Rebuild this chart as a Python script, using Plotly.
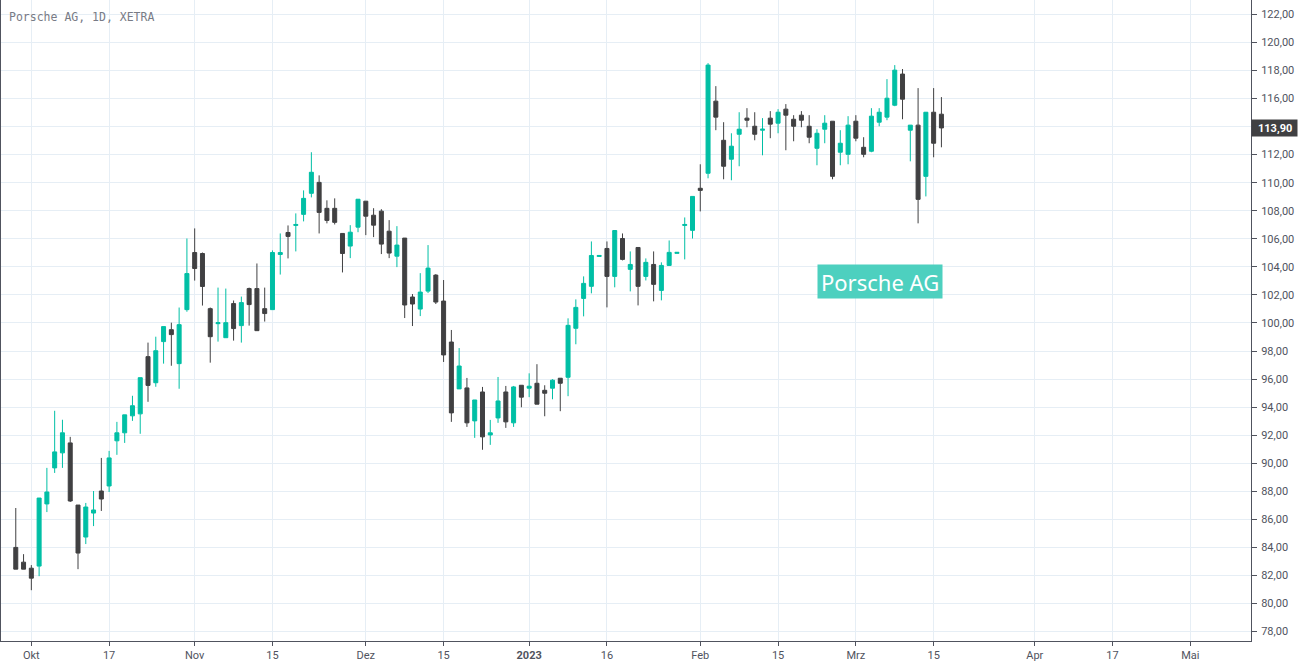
import pandas as pd
import plotly.graph_objects as go

opens = [84.00, 82.95, 82.52, 82.67, 87.10, 89.67, 90.74, 91.45, 87.02, 84.74,
         86.45, 88.02, 88.38, 91.60, 92.17, 93.38, 93.52, 97.60, 95.74, 98.67,
         99.52, 97.10, 100.95, 105.02, 104.95, 101.02, 99.95, 98.95, 101.38, 99.81,
         102.45, 102.45, 101.02, 100.95, 104.88, 106.45, 106.95, 107.74, 109.24, 110.02,
         108.17, 108.17, 106.38, 105.48, 106.83, 108.68, 107.68, 107.97, 106.54, 104.76,
         106.05, 101.85, 100.99, 102.27, 103.41, 101.56, 98.64, 95.30, 95.37, 93.02,
         95.08, 92.02, 93.23, 95.08, 92.88, 95.56, 95.35, 95.70, 95.20, 95.35,
         96.06, 96.13, 99.62, 101.75, 102.61, 104.74, 105.31, 103.32, 106.02, 103.82,
         105.38, 103.32, 104.17, 102.32, 104.10, 104.96, 106.95, 106.60, 109.60, 110.67,
         115.81, 113.02, 111.67, 113.45, 114.60, 114.02, 113.74, 114.60, 114.24, 115.24,
         114.52, 114.81, 114.02, 112.45, 113.81, 114.38, 112.17, 112.02, 114.38, 112.52,
         112.24, 114.31, 114.67, 115.52, 117.74, 113.74, 114.10, 110.45, 115.02, 114.88]
highs = [86.81, 83.52, 82.74, 87.52, 89.67, 93.74, 93.10, 91.88, 87.02, 87.17,
         88.02, 90.38, 90.88, 92.95, 93.45, 94.81, 96.10, 98.60, 99.02, 99.74,
         100.02, 101.10, 106.02, 106.74, 105.02, 101.10, 102.52, 102.45, 101.60, 101.88,
         102.52, 104.24, 102.52, 105.17, 106.38, 106.95, 107.81, 109.45, 112.17, 110.52,
         108.74, 108.88, 106.38, 106.97, 108.82, 108.68, 108.18, 108.11, 107.33, 106.90,
         106.05, 102.06, 103.55, 105.55, 103.48, 103.06, 99.50, 98.21, 96.08, 94.51,
         95.44, 93.09, 96.15, 95.51, 95.51, 95.56, 96.41, 97.06, 95.56, 95.99,
         96.06, 100.33, 101.68, 103.32, 105.81, 104.81, 105.81, 106.59, 106.38, 105.10,
         105.38, 104.60, 105.10, 104.32, 105.88, 105.03, 107.52, 109.02, 111.31, 118.52,
         116.88, 114.31, 113.52, 115.02, 115.31, 115.02, 114.60, 115.10, 115.24, 115.60,
         114.81, 115.10, 114.81, 113.81, 114.81, 114.38, 113.74, 114.74, 114.81, 113.24,
         115.31, 115.31, 117.38, 118.38, 118.10, 114.10, 116.74, 115.02, 116.74, 116.10]
lows = [82.45, 82.45, 80.95, 81.95, 86.52, 89.31, 89.67, 87.24, 82.45, 84.24,
        85.52, 86.60, 87.95, 90.60, 91.45, 93.02, 92.10, 94.38, 95.45, 97.10,
        96.95, 95.31, 100.80, 103.02, 101.24, 97.17, 98.67, 98.95, 98.74, 98.60,
        99.81, 99.45, 100.10, 100.95, 103.45, 104.60, 105.10, 107.24, 108.95, 106.38,
        107.10, 107.02, 103.60, 104.62, 106.47, 106.26, 106.12, 104.91, 104.62, 103.98,
        100.35, 99.78, 100.49, 102.13, 101.35, 97.22, 92.95, 95.30, 92.59, 91.81,
        90.96, 91.31, 92.88, 92.52, 92.59, 93.99, 94.71, 94.21, 93.35, 94.56,
        93.71, 94.78, 98.48, 100.47, 102.11, 104.74, 101.11, 102.54, 104.46, 102.25,
        101.25, 103.03, 101.54, 101.61, 104.10, 104.96, 104.53, 106.02, 107.95, 110.31,
        113.74, 110.24, 110.17, 111.17, 113.95, 113.02, 111.95, 113.17, 113.52, 112.31,
        112.95, 113.95, 112.81, 111.24, 112.81, 110.24, 111.24, 111.31, 112.95, 111.81,
        112.17, 114.02, 114.45, 115.45, 114.52, 111.52, 107.10, 109.02, 111.81, 112.52]
closes = [82.45, 82.45, 81.81, 87.52, 87.95, 90.81, 92.17, 87.31, 83.60, 86.88,
          86.67, 87.45, 90.38, 92.17, 93.45, 94.10, 96.10, 95.55, 98.02, 99.74,
          99.17, 99.88, 103.52, 103.88, 102.60, 99.02, 100.02, 100.02, 99.60, 101.45,
          101.31, 99.45, 100.67, 105.02, 105.02, 106.17, 107.02, 108.88, 110.74, 107.88,
          107.31, 107.17, 104.95, 106.47, 108.82, 107.61, 106.97, 105.62, 104.98, 105.55,
          101.28, 101.35, 102.20, 103.91, 101.49, 97.72, 93.59, 96.93, 92.88, 94.51,
          91.88, 92.17, 94.44, 92.95, 95.44, 94.71, 95.49, 94.21, 94.99, 95.92,
          95.70, 99.83, 101.11, 102.82, 104.81, 104.81, 103.32, 106.59, 104.53, 104.17,
          102.61, 104.32, 102.75, 104.10, 105.03, 105.03, 107.02, 109.02, 109.45, 118.38,
          114.67, 111.17, 112.60, 113.81, 114.45, 113.45, 113.81, 114.17, 115.02, 114.81,
          114.02, 114.45, 113.24, 113.52, 114.24, 110.45, 112.81, 114.10, 113.17, 112.02,
          114.74, 115.02, 116.02, 118.02, 115.95, 114.10, 108.81, 115.02, 112.81, 113.90]

tick_dates = ["2022-10-03", "2022-10-17", "2022-11-01", "2022-11-15", "2022-12-01", "2022-12-15",
              "2023-01-02", "2023-01-16", "2023-02-01", "2023-02-15", "2023-03-01", "2023-03-15",
              "2023-04-03", "2023-04-17", "2023-05-01"]
tick_labels = ["Okt", "17", "Nov", "15", "Dez", "15", "<b>2023</b>", "16", "Feb", "15", "Mrz", "15",
               "Apr", "17", "Mai"]
price_ticks = list(range(78, 124, 2))
# the last price tag sits on top of 114,00 so that label stays empty
price_labels = ["" if p == 114 else "%d,00" % p for p in price_ticks]

# chart has no gaps for weekends, so the x axis runs over trading sessions
sessions = pd.bdate_range("2022-09-29", "2023-05-31")
sessions = [d.strftime("%Y-%m-%d") for d in sessions if d.strftime("%Y-%m-%d") != "2022-12-26"]

UP = "#00bfa5"
DOWN = "#404042"
GRID = "#e6eef5"
AXIS = "#50535e"

fig = go.Figure(go.Candlestick(
    x=sessions[:len(opens)], open=opens, high=highs, low=lows, close=closes,
    increasing=dict(line=dict(color=UP, width=1), fillcolor=UP),
    decreasing=dict(line=dict(color=DOWN, width=1), fillcolor=DOWN),
    whiskerwidth=0, showlegend=False, hoverinfo="skip",
))

fig.update_layout(
    width=1303, height=666,
    margin=dict(l=1, r=52, t=0, b=25),
    paper_bgcolor="white", plot_bgcolor="white",
    boxgap=0.3, boxgroupgap=0.265,
    font=dict(family="Roboto", size=11, color=AXIS),
    xaxis=dict(
        type="category", categoryorder="array", categoryarray=sessions,
        range=[-1.9, 158.8], rangeslider=dict(visible=False),
        tickmode="array", tickvals=tick_dates, ticktext=tick_labels,
        showgrid=True, gridcolor=GRID, gridwidth=1,
        ticks="outside", ticklen=4, tickcolor=AXIS,
        showline=True, linecolor=AXIS, linewidth=1,
        tickfont=dict(size=11, color=AXIS), zeroline=False,
    ),
    yaxis=dict(
        side="right", range=[77.33, 123.02],
        tickmode="array", tickvals=price_ticks, ticktext=price_labels,
        showgrid=True, gridcolor=GRID, gridwidth=1,
        ticks="outside", ticklen=5, tickcolor=AXIS, ticklabelstandoff=2,
        showline=True, mirror=True, linecolor=AXIS, linewidth=1,
        tickfont=dict(size=11, color=AXIS), zeroline=False,
    ),
)

fig.add_annotation(
    text="Porsche AG, 1D, XETRA", xref="paper", yref="paper", x=0.005, y=0.9735,
    xanchor="left", yanchor="middle", showarrow=False,
    font=dict(family="DejaVu Sans Mono", size=11.5, color="#787b86"),
)
fig.add_annotation(
    text="Porsche AG", xref="paper", yref="y", x=0.7032, y=102.93,
    xanchor="center", yanchor="middle", showarrow=False,
    bgcolor="#4dd0bf", borderpad=3, height=27,
    font=dict(family="Noto Sans", size=22, color="white"),
)
fig.add_annotation(
    text="<b>%s</b>&nbsp;" % ("%.2f" % closes[-1]).replace(".", ","), xref="paper", yref="y", x=1, y=closes[-1],
    xanchor="left", yanchor="middle", xshift=0, showarrow=False,
    bgcolor=DOWN, borderpad=2, width=41, height=12, align="right",
    font=dict(family="Roboto", size=11, color="white"),
)

fig.write_html("out.html", config=dict(displayModeBar=False),
               post_script="document.body.style.margin='0';document.body.style.overflow='hidden';")
